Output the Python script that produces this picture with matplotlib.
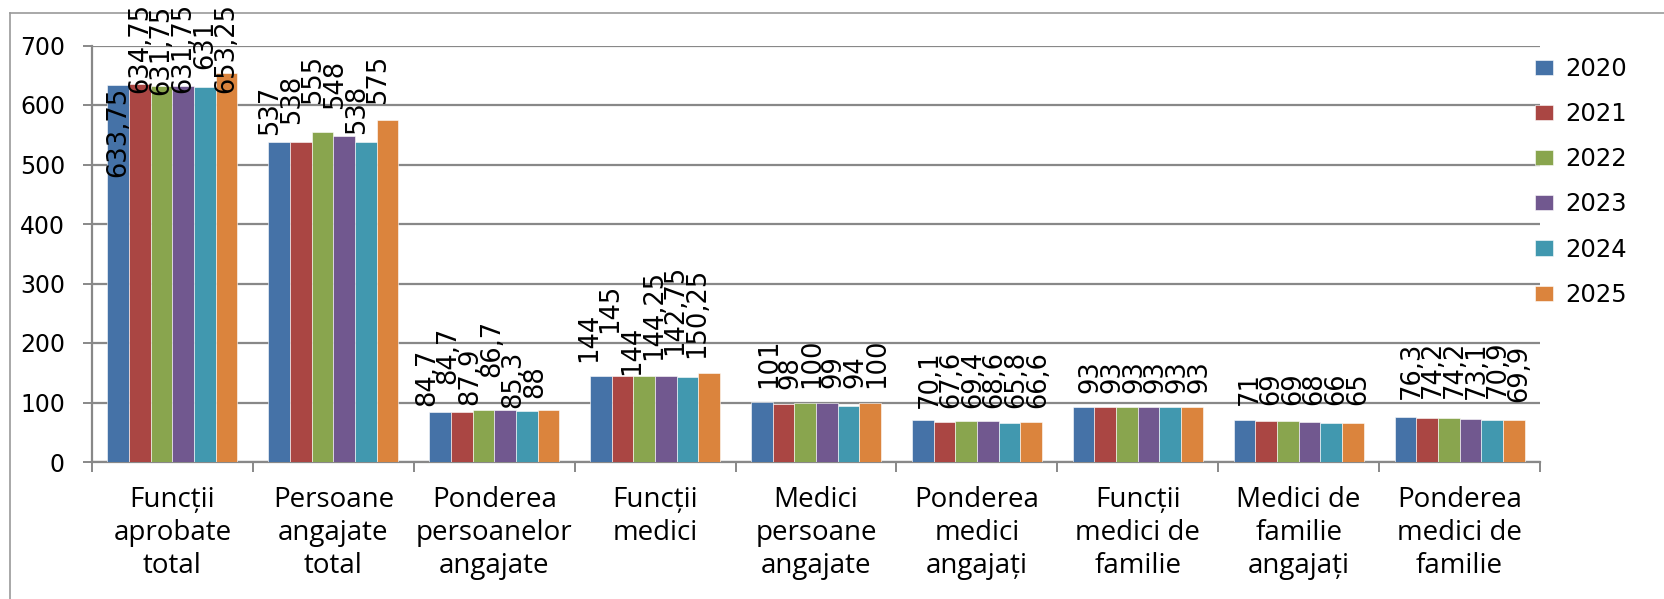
import matplotlib
matplotlib.use("Agg")
import matplotlib.pyplot as plt
from matplotlib.lines import Line2D
import numpy as np

# ---------------- data ----------------
categories = [
    "Funcții\naprobate\ntotal",
    "Persoane\nangajate\ntotal",
    "Ponderea\npersoanelor\nangajate",
    "Funcții\nmedici",
    "Medici\npersoane\nangajate",
    "Ponderea\nmedici\nangajați",
    "Funcții\nmedici de\nfamilie",
    "Medici de\nfamilie\nangajați",
    "Ponderea\nmedici de\nfamilie",
]
years = ["2020", "2021", "2022", "2023", "2024", "2025"]
v2020 = [633.75, 537, 84.7, 144, 101, 70.1, 93, 71, 76.3]
v2021 = [634.75, 538, 84.7, 145, 98, 67.6, 93, 69, 74.2]
v2022 = [631.75, 555, 87.9, 144, 100, 69.4, 93, 69, 74.2]
v2023 = [631.75, 548, 86.7, 144.25, 99, 68.6, 93, 68, 73.1]
v2024 = [631, 538, 85.3, 142.75, 94, 65.8, 93, 66, 70.9]
v2025 = [653.25, 575, 88, 150.25, 100, 66.6, 93, 65, 69.9]
series = [v2020, v2021, v2022, v2023, v2024, v2025]
yticks = [0, 100, 200, 300, 400, 500, 600, 700]

# ---------------- style / layout ----------------
colors = ["#4572A7", "#AA4643", "#89A54E", "#71588F", "#4198AF", "#DB843D"]
grid_col = "#888888"
W, H, DPI = 1664, 599, 100
bar_w = 0.1347
# data-label placement (pixels): vertical lift above bar top, per group x series
label_lift = [
    [-92, -9, -9, -7, 18, -20],
    [7, 18, 28, 27, 8, 16],
    [6, 28, 5, 33, 3, 12],
    [14, 43, 1, 16, 22, 15],
    [14, 15, 14, 15, 18, 14],
    [12, 14, 13, 13, 15, 14],
    [14, 14, 14, 14, 14, 14],
    [15, 16, 16, 17, 18, 18],
    [18, 20, 20, 20, 22, 18],
]
label_shift = [0, -9, -13, -12, 7, 7, 7, 5, 6]

fig = plt.figure(figsize=(W / DPI, H / DPI), dpi=DPI)
fig.patch.set_facecolor("white")
ax = fig.add_axes([92 / W, 1 - 462 / H, (1540 - 92) / W, (462 - 45.5) / H])

x = np.arange(len(categories))
for j, (vals, col, yr) in enumerate(zip(series, colors, years)):
    xpos = x + (j - 2.5) * bar_w
    ax.bar(xpos, vals, width=bar_w, color=col, edgecolor="white",
           linewidth=0.4, label=yr, zorder=3)
    for i, v in enumerate(vals):
        txt = ("%g" % v).replace(".", ",")
        ax.annotate(txt, xy=(xpos[i], v),
                    xytext=(label_shift[i], label_lift[i][j]),
                    textcoords="offset pixels", rotation=90,
                    ha="center", va="bottom", fontsize=18.5,
                    family="DejaVu Sans", color="black", zorder=5,
                    annotation_clip=False)

ax.set_xlim(-0.5, len(categories) - 0.5)
ax.set_ylim(0, 700)
ax.set_yticks(yticks)
ax.set_yticklabels([str(t) for t in yticks], fontsize=17, family="DejaVu Sans")
ax.yaxis.grid(True, color=grid_col, linewidth=1.6, zorder=0)
ax.set_axisbelow(True)

ax.set_xticks(x)
ax.set_xticklabels(categories, fontsize=20, family=["Open Sans", "DejaVu Sans"],
                   linespacing=1.25)
ax.set_xticks(np.arange(-0.5, len(categories), 1.0), minor=True)
ax.tick_params(axis="x", which="major", length=0, pad=17)
ax.tick_params(axis="x", which="minor", length=7.5, width=1.4, color=grid_col,
               direction="out")
ax.tick_params(axis="y", length=6.5, width=1.4, color=grid_col, pad=13,
               direction="out")

for s in ["top", "right"]:
    ax.spines[s].set_visible(False)
for s in ["left", "bottom"]:
    ax.spines[s].set_color(grid_col)
    ax.spines[s].set_linewidth(1.6)

leg = ax.legend(loc="upper left", bbox_to_anchor=(1535 / W, 1 - 57 / H),
                bbox_transform=fig.transFigure, frameon=False,
                prop={"family": "DejaVu Sans", "size": 17.5},
                handlelength=0.74, handleheight=0.58, handletextpad=0.5,
                labelspacing=0.87, borderpad=0, borderaxespad=0)

# outer chart border fragments
fig.add_artist(Line2D([10 / W, 10 / W], [0, 1 - 13 / H], transform=fig.transFigure,
                      color="#9a9a9a", linewidth=1.2, zorder=0))
fig.add_artist(Line2D([10 / W, 1.0], [1 - 13 / H, 1 - 13 / H],
                      transform=fig.transFigure, color="#9a9a9a", linewidth=1.2,
                      zorder=0))

fig.savefig("out.png", dpi=DPI)
